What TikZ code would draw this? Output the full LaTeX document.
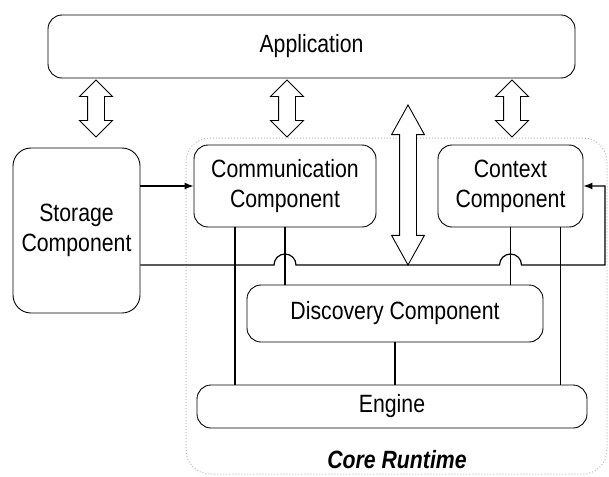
\documentclass[tikz,border=0pt]{standalone}
\usepackage{fontspec}
\setmainfont{Liberation Sans}[FakeStretch=0.85]
\usepackage{tikz}
\usetikzlibrary{arrows.meta}
\usetikzlibrary{shapes.arrows}

\tikzset{
  comp/.style={draw, rounded corners=14pt, line width=0.9pt, align=center, inner sep=0pt,
    font=\fontsize{25}{30}\selectfont},
  hollow/.style={double arrow, draw, line width=0.9pt, rotate=90, inner xsep=0pt, inner ysep=8pt, fill=white,
    minimum width=32pt, double arrow head extend=8pt, double arrow tip angle=90},
  link/.style={line width=1.2pt},
}

\begin{document}
\begin{tikzpicture}[x=1pt,y=-1pt,>={Latex[length=9pt,width=7pt]}]
	\useasboundingbox (0,0) rectangle (609,476);
	\draw[gray!55, dotted, line width=1pt, rounded corners=24pt] (186,138) rectangle (607,474);
	\node[comp, minimum width=527pt, minimum height=63pt] (app) at (311.5,46.5) {Application};
	\node[comp, rounded corners=18pt, minimum width=127pt, minimum height=165pt] (stor) at (76.5,230.5) {Storage\\Component};
	\node[comp, minimum width=182pt, minimum height=82pt] (comm) at (285,186) {Communication\\Component};
	\node[comp, minimum width=145pt, minimum height=82pt] (ctx) at (510.5,186) {Context\\Component};
	\node[comp, minimum width=296pt, minimum height=57pt] (disc) at (395,313.5) {Discovery Component};
	\node[comp, minimum width=390pt, minimum height=43pt] (eng) at (392,406.5) {Engine};
	\node[font=\fontsize{25}{30}\selectfont\bfseries\itshape] (core) at (397,460) {Core Runtime};
	\node[hollow, minimum height=57pt] (ua) at (96,108.5) {};
	\node[hollow, minimum height=57pt] (ub) at (287,108.5) {};
	\node[hollow, minimum height=57pt] (uc) at (512,108.5) {};
	\node[hollow, minimum height=160pt, double arrow tip angle=58] (ud) at (408,185) {};
	\draw[link, ->] (stor.east |- comm.west) -- (comm.west);
	\coordinate (hopa) at (comm.south |- 0,265);
	\coordinate (hopb) at (ctx.south |- 0,265);
	\coordinate (busr) at (605,265);
	\draw[link, ->] (stor.east |- hopa) -- ([xshift=-11pt]hopa) arc[start angle=180, end angle=0, radius=11pt]
		-- ([xshift=-11pt]hopb) arc[start angle=180, end angle=0, radius=11pt] -- (busr) |- (ctx.east);
	\draw[link] ([xshift=-50pt]comm.south) -- ([xshift=-50pt]comm.south |- eng.north);
	\draw[link] (comm.south) -- (comm.south |- disc.north);
	\draw[link] (ctx.south) -- (ctx.south |- disc.north);
	\draw[link] ([xshift=50pt]ctx.south) -- ([xshift=50pt]ctx.south |- eng.north);
	\draw[link] (disc.south) -- (disc.south |- eng.north);
\end{tikzpicture}
\end{document}
